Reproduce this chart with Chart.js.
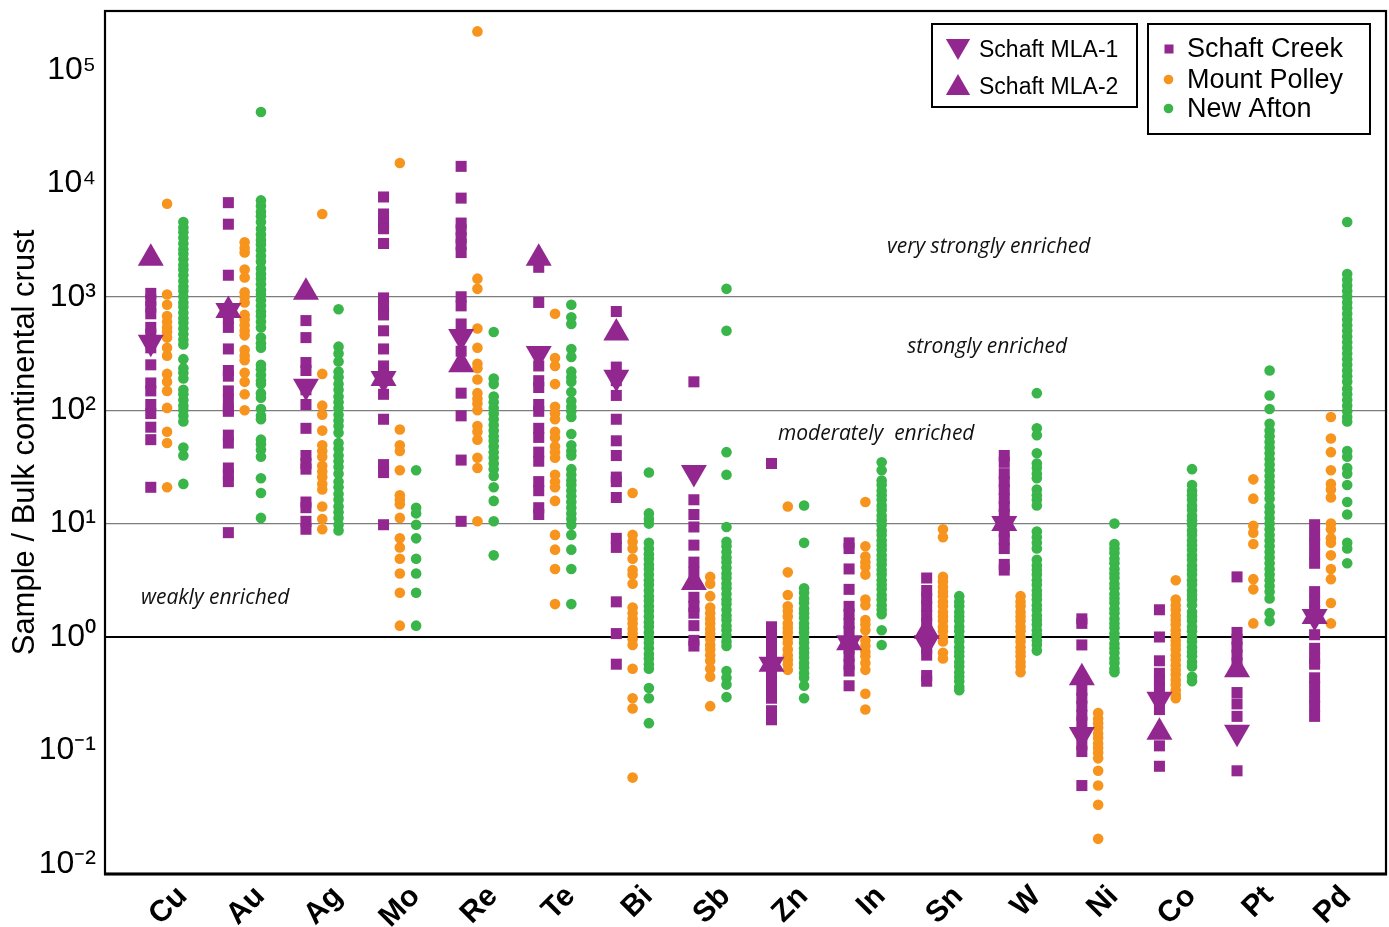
<!DOCTYPE html>
<html>
<head>
<meta charset="utf-8">
<script src="https://cdn.jsdelivr.net/npm/chart.js@4.4.1/dist/chart.umd.min.js"></script>
<style>
  html, body { margin: 0; padding: 0; background: #fff; }
</style>
</head>
<body>
<canvas id="chart" width="1389" height="927"></canvas>
<script>
// Element categories along the x axis
const categories = ['Cu', 'Au', 'Ag', 'Mo', 'Re', 'Te', 'Bi', 'Sb', 'Zn', 'In', 'Sn', 'W', 'Ni', 'Co', 'Pt', 'Pd'];

// All values are log10(sample / bulk continental crust).
// One inner array per element, same order as categories.
const schaftCreekLog = [
    [3.03, 2.97, 2.91, 2.85, 2.73, 2.67, 2.61, 2.55, 2.40, 2.24, 2.17, 2.05, 1.97, 1.85, 1.74, 1.32],                 // Cu
    [3.83, 3.64, 3.19, 2.81, 2.73, 2.54, 2.35, 2.30, 2.17, 2.09, 2.01, 1.99, 1.78, 1.71, 1.49, 1.43, 1.37, 0.92],     // Au
    [2.79, 2.64, 2.42, 2.35, 2.18, 2.05, 1.84, 1.60, 1.53, 1.48, 1.19, 1.14, 1.02, 0.95],                             // Ag
    [3.88, 3.73, 3.65, 3.60, 3.47, 2.99, 2.91, 2.84, 2.70, 2.54, 2.39, 2.14, 1.92, 1.52, 1.45, 0.99],                 // Mo
    [4.15, 3.87, 3.65, 3.59, 3.52, 3.46, 3.39, 3.00, 2.92, 2.76, 2.52, 2.15, 1.95, 1.56, 1.02],                       // Re
    [3.26, 2.95, 2.39, 2.26, 2.20, 2.05, 1.99, 1.84, 1.76, 1.63, 1.55, 1.37, 1.29, 1.14, 1.08],                       // Te
    [2.87, 2.38, 2.26, 2.13, 1.92, 1.73, 1.60, 1.41, 1.37, 1.23, 0.87, 0.79, 0.31, 0.03, -0.24],                      // Bi
    [2.25, 1.21, 1.08, 0.97, 0.81, 0.66, 0.57, 0.35, 0.27, 0.21, 0.10, -0.03, -0.08],                                 // Sb
    [1.53, 0.09, 0.02, -0.05, -0.13, -0.20, -0.27, -0.35, -0.42, -0.49, -0.54, -0.65, -0.73],                         // Zn
    [0.83, 0.78, 0.60, 0.42, 0.27, 0.20, 0.12, 0.05, -0.10, -0.17, -0.24, -0.30, -0.43],                              // In
    [0.52, 0.41, 0.34, 0.27, 0.19, 0.12, 0.05, -0.03, -0.10, -0.16, -0.34, -0.39],                                    // Sn
    [1.60, 1.54, 1.44, 1.37, 1.30, 1.22, 1.15, 1.08, 0.93, 0.86, 0.78, 0.64, 0.59],                                   // W
    [0.16, 0.12, -0.07, -0.47, -0.54, -0.61, -0.69, -0.75, -0.95, -1.01, -1.31],                                      // Ni
    [0.24, 0.00, -0.21, -0.32, -0.38, -0.44, -0.64, -0.96, -1.14],                                                    // Co
    [0.53, 0.04, -0.02, -0.09, -0.16, -0.23, -0.49, -0.59, -0.70, -1.18],                                             // Pt
    [0.99, 0.90, 0.82, 0.73, 0.65, 0.40, 0.31, 0.23, 0.02, -0.10, -0.19, -0.24, -0.36, -0.44, -0.53, -0.61, -0.70]    // Pd
];

const mountPolleyLog = [
    [3.82, 3.02, 2.93, 2.83, 2.78, 2.73, 2.69, 2.64, 2.55, 2.48, 2.32, 2.25, 2.17, 2.02, 1.81, 1.71, 1.32],
    [3.48, 3.43, 3.39, 3.24, 3.17, 3.04, 3.00, 2.95, 2.84, 2.80, 2.75, 2.70, 2.66, 2.53, 2.48, 2.44, 2.33, 2.25, 2.14, 2.00],
    [3.73, 2.32, 2.04, 1.96, 1.82, 1.69, 1.64, 1.59, 1.51, 1.46, 1.41, 1.35, 1.30, 1.15, 1.04, 0.95],
    [4.18, 1.83, 1.69, 1.64, 1.47, 1.25, 1.21, 1.17, 1.05, 0.87, 0.79, 0.69, 0.56, 0.39, 0.10],
    [5.34, 3.16, 3.07, 2.72, 2.55, 2.41, 2.37, 2.27, 2.15, 2.10, 2.06, 2.00, 1.86, 1.81, 1.74, 1.58, 1.49, 1.02],
    [2.85, 2.46, 2.39, 2.23, 2.03, 1.97, 1.92, 1.81, 1.76, 1.68, 1.63, 1.58, 1.43, 1.37, 1.32, 1.20, 0.90, 0.77, 0.60, 0.29],
    [1.27, 0.90, 0.84, 0.78, 0.69, 0.59, 0.55, 0.47, 0.26, 0.21, 0.16, 0.12, 0.07, 0.03, -0.02, -0.07, -0.28, -0.54, -0.63, -1.24],
    [0.53, 0.47, 0.36, 0.26, 0.21, 0.16, 0.12, 0.07, 0.03, -0.02, -0.07, -0.11, -0.16, -0.21, -0.28, -0.35, -0.61],
    [1.15, 0.57, 0.37, 0.27, 0.23, 0.18, 0.12, 0.08, 0.04, -0.01, -0.05, -0.11, -0.16, -0.20, -0.24, -0.29],
    [1.19, 0.80, 0.71, 0.66, 0.62, 0.55, 0.33, 0.28, 0.15, 0.11, 0.06, -0.03, -0.08, -0.13, -0.17, -0.23, -0.29, -0.50, -0.64],
    [0.95, 0.88, 0.53, 0.49, 0.44, 0.40, 0.36, 0.31, 0.27, 0.22, 0.18, 0.14, 0.09, 0.05, 0.00, -0.04, -0.14, -0.19],
    [0.36, 0.31, 0.27, 0.22, 0.18, 0.14, 0.09, 0.05, 0.00, -0.04, -0.09, -0.13, -0.17, -0.22, -0.26, -0.31],
    [-0.67, -0.72, -0.76, -0.80, -0.85, -0.89, -0.94, -0.98, -1.02, -1.07, -1.18, -1.31, -1.48, -1.78],
    [0.50, 0.33, 0.28, 0.24, 0.19, 0.15, 0.11, 0.06, 0.02, -0.03, -0.07, -0.11, -0.16, -0.20, -0.25, -0.29, -0.33, -0.38, -0.42, -0.47, -0.51, -0.54],
    [1.39, 1.22, 0.98, 0.92, 0.82, 0.51, 0.42, 0.12],
    [1.94, 1.75, 1.63, 1.47, 1.35, 1.30, 1.23, 1.00, 0.95, 0.87, 0.83, 0.72, 0.60, 0.51, 0.30, 0.12]
];

const newAftonLog = [
    [3.66, 3.61, 3.57, 3.52, 3.47, 3.42, 3.38, 3.33, 3.28, 3.24, 3.19, 3.14, 3.09, 3.05, 3.00, 2.95, 2.91, 2.86, 2.81, 2.77,
     2.72, 2.67, 2.62, 2.58, 2.45, 2.37, 2.33, 2.28, 2.18, 2.14, 2.09, 2.04, 2.00, 1.95, 1.90, 1.67, 1.60, 1.35],
    [4.63, 3.85, 3.80, 3.75, 3.71, 3.66, 3.60, 3.55, 3.50, 3.46, 3.41, 3.36, 3.31, 3.25, 3.20, 3.16, 3.11, 3.06, 3.02, 2.97,
     2.92, 2.87, 2.83, 2.78, 2.73, 2.64, 2.59, 2.55, 2.40, 2.36, 2.31, 2.26, 2.23, 2.15, 2.11, 2.01, 1.95, 1.92, 1.74, 1.70,
     1.65, 1.59, 1.40, 1.27, 1.05],
    [2.89, 2.56, 2.50, 2.43, 2.34, 2.29, 2.23, 2.18, 2.12, 2.07, 2.02, 1.96, 1.91, 1.86, 1.80, 1.71, 1.66, 1.60, 1.55, 1.50,
     1.44, 1.37, 1.32, 1.26, 1.21, 1.15, 1.10, 1.05, 0.99, 0.94],
    [1.47, 1.14, 1.09, 0.99, 0.87, 0.69, 0.56, 0.39, 0.10],
    [2.69, 2.28, 2.23, 2.12, 2.07, 2.02, 1.97, 1.92, 1.87, 1.82, 1.77, 1.73, 1.68, 1.63, 1.58, 1.53, 1.48, 1.42, 1.32, 1.20,
     1.02, 0.72],
    [2.93, 2.82, 2.76, 2.54, 2.47, 2.34, 2.29, 2.25, 2.16, 2.08, 2.03, 1.99, 1.94, 1.79, 1.69, 1.64, 1.60, 1.48, 1.43, 1.38,
     1.34, 1.29, 1.24, 1.19, 1.14, 1.09, 1.04, 0.99, 0.90, 0.77, 0.60, 0.29],
    [1.45, 1.09, 1.04, 1.00, 0.83, 0.78, 0.73, 0.69, 0.64, 0.60, 0.55, 0.50, 0.46, 0.41, 0.36, 0.32, 0.27, 0.23, 0.18, 0.13,
     0.09, 0.04, -0.01, -0.05, -0.10, -0.15, -0.19, -0.24, -0.28, -0.45, -0.54, -0.76],
    [3.07, 2.70, 1.63, 1.43, 0.97, 0.84, 0.80, 0.75, 0.70, 0.66, 0.61, 0.56, 0.52, 0.47, 0.43, 0.38, 0.33, 0.29, 0.24, 0.19,
     0.15, 0.10, 0.06, 0.01, -0.04, -0.08, -0.30, -0.36, -0.42, -0.53],
    [1.16, 0.83, 0.43, 0.39, 0.34, 0.30, 0.25, 0.21, 0.17, 0.12, 0.08, 0.04, -0.01, -0.05, -0.10, -0.14, -0.18, -0.23, -0.27,
     -0.32, -0.36, -0.43, -0.54],
    [1.54, 1.47, 1.38, 1.34, 1.29, 1.25, 1.21, 1.16, 1.12, 1.07, 1.03, 0.99, 0.94, 0.90, 0.85, 0.81, 0.77, 0.72, 0.68, 0.64,
     0.59, 0.55, 0.50, 0.46, 0.42, 0.37, 0.33, 0.28, 0.24, 0.20, 0.06, -0.07],
    [0.36, 0.31, 0.27, 0.22, 0.18, 0.14, 0.09, 0.05, 0.00, -0.04, -0.09, -0.13, -0.17, -0.22, -0.26, -0.31, -0.35, -0.39,
     -0.44, -0.47],
    [2.15, 1.84, 1.78, 1.62, 1.53, 1.49, 1.44, 1.40, 1.30, 1.25, 1.21, 1.16, 0.93, 0.88, 0.83, 0.78, 0.68, 0.63, 0.59, 0.55,
     0.50, 0.46, 0.41, 0.37, 0.33, 0.28, 0.24, 0.19, 0.15, 0.11, 0.06, 0.02, -0.03, -0.07, -0.12],
    [1.00, 0.82, 0.78, 0.74, 0.69, 0.65, 0.60, 0.56, 0.52, 0.47, 0.43, 0.38, 0.34, 0.30, 0.25, 0.21, 0.16, 0.12, 0.08, 0.03,
     -0.01, -0.06, -0.10, -0.14, -0.19, -0.23, -0.28, -0.31],
    [1.48, 1.34, 1.29, 1.25, 1.21, 1.16, 1.12, 1.07, 1.03, 0.99, 0.94, 0.90, 0.85, 0.81, 0.77, 0.72, 0.68, 0.63, 0.59, 0.55,
     0.50, 0.46, 0.41, 0.37, 0.33, 0.28, 0.22, 0.18, 0.14, 0.09, 0.05, 0.00, -0.04, -0.09, -0.13, -0.17, -0.22, -0.26, -0.35,
     -0.39],
    [2.35, 2.13, 2.01, 1.88, 1.82, 1.77, 1.72, 1.67, 1.62, 1.57, 1.52, 1.47, 1.42, 1.37, 1.32, 1.27, 1.22, 1.15, 1.10, 1.05,
     1.00, 0.95, 0.90, 0.85, 0.80, 0.75, 0.70, 0.65, 0.60, 0.55, 0.50, 0.45, 0.40, 0.34, 0.21, 0.14],
    [3.66, 3.20, 3.15, 3.10, 3.05, 3.00, 2.95, 2.90, 2.85, 2.80, 2.75, 2.70, 2.65, 2.60, 2.55, 2.50, 2.45, 2.40, 2.35, 2.30,
     2.25, 2.19, 2.14, 2.09, 2.04, 1.99, 1.94, 1.90, 1.64, 1.59, 1.49, 1.44, 1.34, 1.19, 1.08, 0.83, 0.78, 0.65]
];

// Schaft Creek MLA results, one value per element
const schaftMla1Log = [2.60, 2.88, 2.21, 2.28, 2.65, 2.50, 2.29, 1.45, -0.24, -0.05, -0.05, 1.00, -0.86, -0.55, -0.84, 0.18];
const schaftMla2Log = [3.34, 2.88, 3.04, 2.28, 2.40, 3.34, 2.68, 0.48, -0.24, -0.05, 0.05, 1.00, -0.36, -0.84, -0.29, 0.18];

const yTickExponents = [-2, -1, 0, 1, 2, 3, 4, 5];
const yTickLabels = ['10\u207B\u00B2', '10\u207B\u00B9', '10\u2070', '10\u00B9', '10\u00B2', '10\u00B3', '10\u2074', '10\u2075'];

const PURPLE = '#92278f';
const ORANGE = '#f7941d';
const GREEN = '#39b54a';
const SANS = '"Liberation Sans", Arial, Helvetica, sans-serif';
const ITALIC = '"Open Sans", "Noto Sans", sans-serif';

// column offset of each locality inside an element's slot
const SHIFT = { schaft: -0.21, polley: 0, afton: 0.21 };

// turn the per-element log arrays into scatter points
function toPoints(columns, shift) {
    const pts = [];
    columns.forEach((col, i) => {
        col.forEach(v => pts.push({ x: i + shift, y: Math.pow(10, v) }));
    });
    return pts;
}

function mlaPoints(values) {
    return values.map((v, i) => ({ x: i + SHIFT.schaft, y: Math.pow(10, v) }));
}

// text labels for the enrichment zones (x in element units, y as log10)
const zoneNotes = [
    { text: 'very strongly enriched', x: 10.59, y: 3.39 },
    { text: 'strongly enriched', x: 10.57, y: 2.50 },
    { text: 'moderately  enriched', x: 9.14, y: 1.74 },
    { text: 'weakly enriched', x: 0.62, y: 0.29 }
];

function triangle(ctx, cx, cy, r, down) {
    const s = down ? -1 : 1;
    ctx.beginPath();
    ctx.moveTo(cx, cy - s * r);
    ctx.lineTo(cx + 0.866 * r, cy + s * r / 2);
    ctx.lineTo(cx - 0.866 * r, cy + s * r / 2);
    ctx.closePath();
    ctx.fill();
}

// drop the label overhang padding so the plot area sits where we want it
function noScalePadding(scale) {
    scale.paddingTop = 0;
    scale.paddingBottom = 0;
    scale.paddingLeft = 0;
    scale.paddingRight = 0;
}

// frame, zone notes and the two legend boxes
const decorPlugin = {
    id: 'decor',
    afterDraw(chart) {
        const ctx = chart.ctx;
        const area = chart.chartArea;
        const xs = chart.scales.x;
        const ys = chart.scales.y;
        ctx.save();

        // plot frame
        ctx.strokeStyle = '#000';
        ctx.lineWidth = 2.2;
        ctx.strokeRect(area.left, area.top, area.right - area.left, area.bottom - area.top);
        ctx.lineWidth = 3;
        ctx.beginPath();
        ctx.moveTo(area.left - 1, area.bottom);
        ctx.lineTo(area.right + 1, area.bottom);
        ctx.stroke();

        // zone notes
        ctx.fillStyle = '#111';
        ctx.font = 'italic 21px ' + ITALIC;
        ctx.textAlign = 'center';
        ctx.textBaseline = 'alphabetic';
        zoneNotes.forEach(n => {
            ctx.fillText(n.text, xs.getPixelForValue(n.x), ys.getPixelForValue(Math.pow(10, n.y)));
        });

        // legend boxes
        ctx.fillStyle = '#fff';
        ctx.fillRect(931, 24, 206, 83);
        ctx.fillRect(1147, 24, 223, 110);
        ctx.lineWidth = 2;
        ctx.strokeStyle = '#000';
        ctx.strokeRect(932, 24, 205, 83);
        ctx.strokeRect(1148, 24, 222, 110);

        // box 1: MLA triangles
        ctx.fillStyle = PURPLE;
        triangle(ctx, 958, 46, 14, true);
        triangle(ctx, 958, 88, 14, false);
        ctx.fillStyle = '#000';
        ctx.textAlign = 'left';
        ctx.font = '23px ' + SANS;
        ctx.fillText('Schaft MLA-1', 979, 57);
        ctx.fillText('Schaft MLA-2', 979, 94);

        // box 2: localities
        ctx.fillStyle = PURPLE;
        ctx.fillRect(1164.5, 44.5, 9, 9);
        ctx.fillStyle = ORANGE;
        ctx.beginPath();
        ctx.arc(1168.5, 79.5, 4.8, 0, Math.PI * 2);
        ctx.fill();
        ctx.fillStyle = GREEN;
        ctx.beginPath();
        ctx.arc(1168.5, 108.5, 4.8, 0, Math.PI * 2);
        ctx.fill();
        ctx.fillStyle = '#000';
        ctx.font = '27px ' + SANS;
        ctx.fillText('Schaft Creek', 1187, 57);
        ctx.fillText('Mount Polley', 1187, 88);
        ctx.fillText('New Afton', 1187, 117);

        ctx.restore();
    }
};

const ctx = document.getElementById('chart').getContext('2d');
const chart = new Chart(ctx, {
    type: 'scatter',
    data: {
        datasets: [{
            label: 'Schaft MLA-2',
            data: mlaPoints(schaftMla2Log),
            pointStyle: 'triangle',
            pointRadius: 15,
            backgroundColor: PURPLE,
            borderWidth: 0
        }, {
            label: 'Schaft MLA-1',
            data: mlaPoints(schaftMla1Log),
            pointStyle: 'triangle',
            rotation: 180,
            pointRadius: 15,
            backgroundColor: PURPLE,
            borderWidth: 0
        }, {
            label: 'Schaft Creek',
            data: toPoints(schaftCreekLog, SHIFT.schaft),
            pointStyle: 'rect',
            pointRadius: 7.8,
            backgroundColor: PURPLE,
            borderWidth: 0
        }, {
            label: 'Mount Polley',
            data: toPoints(mountPolleyLog, SHIFT.polley),
            pointRadius: 5.3,
            backgroundColor: ORANGE,
            borderWidth: 0
        }, {
            label: 'New Afton',
            data: toPoints(newAftonLog, SHIFT.afton),
            pointRadius: 5.3,
            backgroundColor: GREEN,
            borderWidth: 0
        }]
    },
    options: {
        responsive: false,
        animation: false,
        layout: { autoPadding: false, padding: { top: 11, right: 3, left: 0, bottom: 0 } },
        plugins: {
            legend: { display: false },
            tooltip: { enabled: false }
        },
        scales: {
            x: {
                type: 'linear',
                min: -0.8,
                max: 15.71,
                afterBuildTicks: scale => {
                    scale.ticks = categories.map((c, i) => ({ value: i + 0.2 }));
                },
                afterFit: scale => {
                    scale.height = 53;
                    noScalePadding(scale);
                },
                grid: { display: false, drawTicks: false },
                border: { display: false },
                ticks: {
                    autoSkip: false,
                    minRotation: 45,
                    maxRotation: 45,
                    padding: 5,
                    color: '#000',
                    font: { family: SANS, size: 30, weight: 'bold' },
                    callback: (v, i) => categories[i]
                }
            },
            y: {
                type: 'logarithmic',
                min: Math.pow(10, -2.09),
                max: Math.pow(10, 5.52),
                afterBuildTicks: scale => {
                    scale.ticks = yTickExponents.map(e => ({ value: Math.pow(10, e) }));
                },
                afterFit: scale => {
                    scale.width = 105;
                    noScalePadding(scale);
                },
                border: { display: false },
                grid: {
                    drawTicks: false,
                    color: c => {
                        const e = Math.round(Math.log10(c.tick.value));
                        if (e === 0) return '#000';
                        if (e >= 1 && e <= 3) return '#7d7d7d';
                        return 'rgba(0,0,0,0)';
                    },
                    lineWidth: c => (Math.round(Math.log10(c.tick.value)) === 0 ? 2 : 1.3)
                },
                ticks: {
                    padding: 9,
                    color: '#000',
                    font: { family: SANS, size: 32 },
                    callback: (v, i) => yTickLabels[i]
                },
                title: {
                    display: true,
                    text: 'Sample / Bulk continental crust',
                    color: '#000',
                    font: { family: SANS, size: 31 },
                    padding: { top: 7, bottom: 0 }
                }
            }
        }
    },
    plugins: [decorPlugin]
});
</script>
</body>
</html>
